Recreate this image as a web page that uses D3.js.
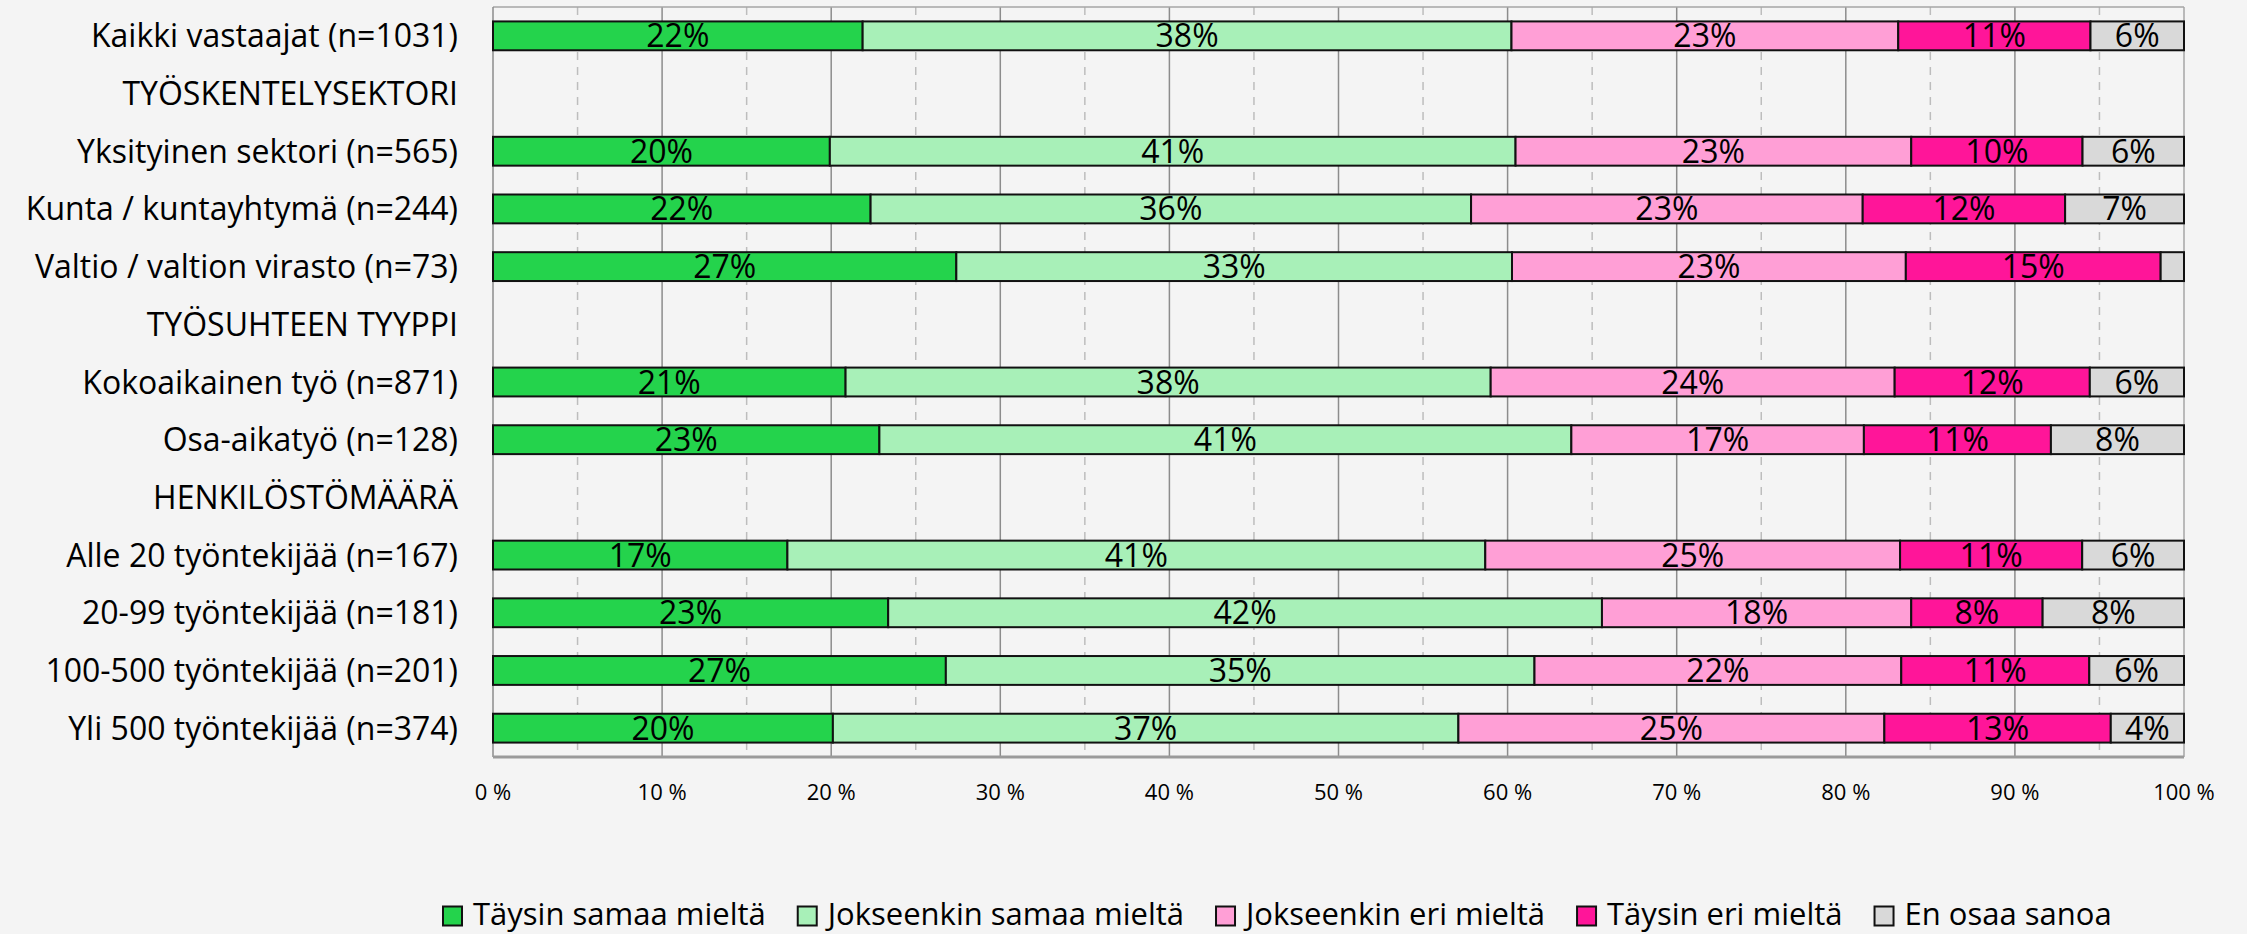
<!DOCTYPE html>
<html>
<head>
<meta charset="utf-8">
<script src="https://cdn.jsdelivr.net/npm/d3@7"></script>
<style>
  body { margin: 0; background: #f4f4f4; }
  svg { display: block; font-family: "Open Sans", Lato, sans-serif; }
</style>
</head>
<body>
<div id="chart"></div>
<script>
// rows of the chart, headers have no values
let categories = [
  "Kaikki vastaajat (n=1031)",
  "TYÖSKENTELYSEKTORI",
  "Yksityinen sektori (n=565)",
  "Kunta / kuntayhtymä (n=244)",
  "Valtio / valtion virasto (n=73)",
  "TYÖSUHTEEN TYYPPI",
  "Kokoaikainen työ (n=871)",
  "Osa-aikatyö (n=128)",
  "HENKILÖSTÖMÄÄRÄ",
  "Alle 20 työntekijää (n=167)",
  "20-99 työntekijää (n=181)",
  "100-500 työntekijää (n=201)",
  "Yli 500 työntekijää (n=374)"
];

let seriesNames = ["Täysin samaa mieltä", "Jokseenkin samaa mieltä", "Jokseenkin eri mieltä", "Täysin eri mieltä", "En osaa sanoa"];
let seriesColors = ["#24d34c", "#a8f0b8", "#ff9fd6", "#ff1599", "#d9d9d9"];

let taysinSamaa    = [21.86, null, 19.92, 22.33, 27.40, null, 20.85, 22.85, null, 17.41, 23.37, 26.78, 20.10];
let jokseenkinSamaa= [38.37, null, 40.55, 35.51, 32.86, null, 38.15, 40.92, null, 41.27, 42.21, 34.81, 36.99];
let jokseenkinEri  = [22.87, null, 23.40, 23.16, 23.29, null, 23.89, 17.30, null, 24.53, 18.29, 21.69, 25.19];
let taysinEri      = [11.37, null, 10.13, 11.97, 15.07, null, 11.54, 11.06, null, 10.77,  7.77, 11.12, 13.39];
let enOsaa         = [ 5.53, null,  6.00,  7.03,  1.38, null,  5.57,  7.87, null,  6.02,  8.36,  5.60,  4.33];

let xTicks = [0, 10, 20, 30, 40, 50, 60, 70, 80, 90, 100];
let xMinor = [5, 15, 25, 35, 45, 55, 65, 75, 85, 95];

let allSeries = [taysinSamaa, jokseenkinSamaa, jokseenkinEri, taysinEri, enOsaa];

let table = categories.map(function(c, i) {
  let row = {cat: c};
  seriesNames.forEach(function(s, j) { row[s] = allSeries[j][i] || 0; });
  return row;
});

let W = 2247, H = 934;
let plotLeft = 493, plotRight = 2184, plotTop = 7, plotBottom = 757;

let svg = d3.select("#chart").append("svg")
  .attr("width", W)
  .attr("height", H);

svg.append("rect").attr("width", W).attr("height", H).attr("fill", "#f4f4f4");

let x = d3.scaleLinear().domain([0, 100]).range([plotLeft, plotRight]);
let y = d3.scaleBand().domain(categories).range([plotTop, plotBottom]).paddingInner(0.5).paddingOuter(0.25);

// grid
svg.selectAll(".minor").data(xMinor).enter()
  .append("line")
  .attr("class", "minor")
  .attr("x1", d => x(d)).attr("x2", d => x(d))
  .attr("y1", plotTop).attr("y2", plotBottom)
  .attr("stroke", "#bdbdbd")
  .attr("stroke-width", 1.5)
  .attr("stroke-dasharray", "8,7");

svg.selectAll(".major").data(xTicks.slice(1, -1)).enter()
  .append("line")
  .attr("class", "major")
  .attr("x1", d => x(d)).attr("x2", d => x(d))
  .attr("y1", plotTop).attr("y2", plotBottom)
  .attr("stroke", "#8c8c8c")
  .attr("stroke-width", 1.5);

// plot frame
svg.append("line").attr("x1", plotLeft).attr("x2", plotRight).attr("y1", plotTop).attr("y2", plotTop)
  .attr("stroke", "#a6a6a6").attr("stroke-width", 1.5);
svg.append("line").attr("x1", plotRight).attr("x2", plotRight).attr("y1", plotTop).attr("y2", plotBottom)
  .attr("stroke", "#a6a6a6").attr("stroke-width", 1.5);
svg.append("line").attr("x1", plotLeft).attr("x2", plotLeft).attr("y1", plotTop).attr("y2", plotBottom)
  .attr("stroke", "#8c8c8c").attr("stroke-width", 1.5);
svg.append("line").attr("x1", plotLeft).attr("x2", plotRight).attr("y1", plotBottom).attr("y2", plotBottom)
  .attr("stroke", "#9a9a9a").attr("stroke-width", 3);

// bars
let stacked = d3.stack().keys(seriesNames)(table);

let groups = svg.selectAll(".series").data(stacked).enter()
  .append("g")
  .attr("class", "series")
  .attr("fill", (d, i) => seriesColors[i]);

groups.selectAll("rect")
  .data(d => d.filter(p => p[1] - p[0] > 0))
  .enter()
  .append("rect")
  .attr("x", d => x(d[0]))
  .attr("y", d => y(d.data.cat))
  .attr("width", d => x(d[1]) - x(d[0]))
  .attr("height", y.bandwidth())
  .attr("stroke", "#111")
  .attr("stroke-width", 2);

groups.selectAll("text")
  .data(d => d.filter(p => p[1] - p[0] >= 3))
  .enter()
  .append("text")
  .attr("x", d => x((d[0] + d[1]) / 2))
  .attr("y", d => y(d.data.cat) + y.bandwidth() / 2 + 11.5)
  .attr("text-anchor", "middle")
  .attr("fill", "#000")
  .style("font-size", "32px")
  .text(d => Math.round(d[1] - d[0]) + "%");

// category labels
svg.selectAll(".cat").data(categories).enter()
  .append("text")
  .attr("class", "cat")
  .attr("x", 458)
  .attr("y", d => y(d) + y.bandwidth() / 2 + 11.5)
  .attr("text-anchor", "end")
  .attr("fill", "#000")
  .style("font-size", "32px")
  .text(d => d);

// x tick labels
svg.selectAll(".tick").data(xTicks).enter()
  .append("text")
  .attr("class", "tick")
  .attr("x", d => x(d))
  .attr("y", 800)
  .attr("text-anchor", "middle")
  .attr("fill", "#000")
  .style("font-size", "22px")
  .text(d => d + " %");

// legend
let legend = svg.append("g").attr("class", "legend");
let lx = 443;
seriesNames.forEach(function(s, i) {
  legend.append("rect")
    .attr("x", lx).attr("y", 906.5)
    .attr("width", 19).attr("height", 19)
    .attr("fill", seriesColors[i])
    .attr("stroke", "#111")
    .attr("stroke-width", 2);
  let t = legend.append("text")
    .attr("x", lx + 30)
    .attr("y", 925)
    .attr("fill", "#000")
    .style("font-size", "31px")
    .text(s);
  lx = lx + 30 + t.node().getComputedTextLength() + 32;
});
</script>
</body>
</html>
